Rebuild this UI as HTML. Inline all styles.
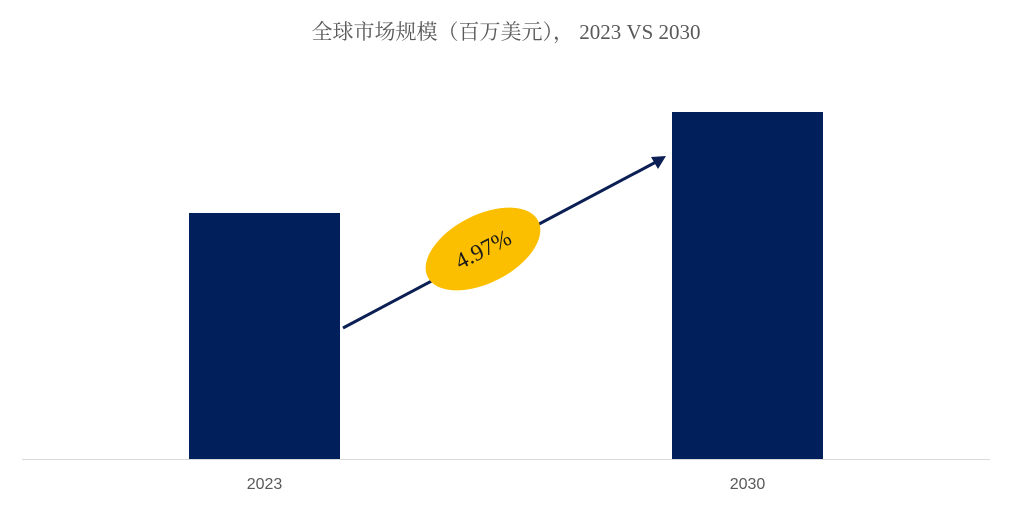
<!DOCTYPE html>
<html><head><meta charset="utf-8"><style>
body{margin:0;background:#fff;width:1013px;height:508px;overflow:hidden}
svg{display:block}
</style></head><body>
<svg width="1013" height="508" id="chart">
<text x="506" y="39" text-anchor="middle" font-family="'Liberation Serif','Noto Serif CJK SC',serif" font-size="21" fill="#595959">全球市场规模（百万美元）， 2023 VS 2030</text>
<line x1="22" y1="459.5" x2="990" y2="459.5" stroke="#d9d9d9" stroke-width="1"/>
<g id="bars"></g>
<line x1="343" y1="328" x2="656" y2="162" stroke="#0b1f54" stroke-width="3"/>
<polygon points="666,156 651,157 658,169" fill="#0b1f54"/>
<g transform="translate(483,249) rotate(-27)">
<ellipse cx="0" cy="0" rx="62" ry="34" fill="#fcbf00"/>
<text x="0" y="8" text-anchor="middle" font-family="'Liberation Serif',serif" font-size="23" fill="#1a1a1a">4.97%</text>
</g>
</svg>
<script>
const categories = ["2023", "2030"];
const values = [709, 1000];
const svg = document.getElementById('chart');
const g = document.getElementById('bars');
const ns = 'http://www.w3.org/2000/svg';
const baseY = 459, pxPerUnit = 347/1000;
const xCenter = i => 264.5 + i*483;
const barW = 151;
categories.forEach((c,i)=>{
  const h = values[i]*pxPerUnit;
  const r = document.createElementNS(ns,'rect');
  r.setAttribute('x', xCenter(i)-barW/2);
  r.setAttribute('y', baseY-h);
  r.setAttribute('width', barW);
  r.setAttribute('height', h);
  r.setAttribute('fill', '#001f5b');
  
  
  g.appendChild(r);
  const t = document.createElementNS(ns,'text');
  t.setAttribute('x', xCenter(i));
  t.setAttribute('y', 489);
  t.setAttribute('text-anchor','middle');
  t.setAttribute('font-family','Liberation Sans, sans-serif');
  t.setAttribute('font-size','16');
  t.setAttribute('fill','#595959');
  
  
  t.textContent = c;
  g.appendChild(t);
});
</script>
</body></html>
